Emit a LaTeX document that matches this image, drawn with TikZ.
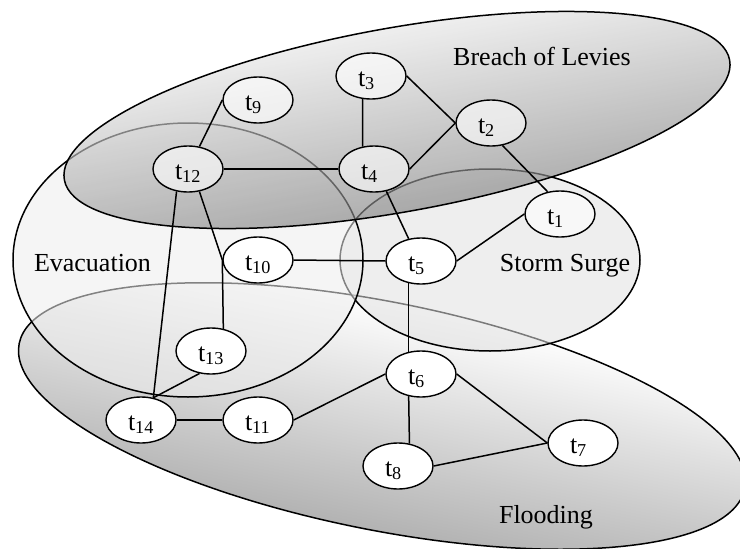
\documentclass[tikz,border=0pt]{standalone}
\usepackage{fontspec}
\setmainfont{Liberation Serif}
\usetikzlibrary{shapes.geometric}
\begin{document}
\begin{tikzpicture}[x=1pt,y=-1pt,font=\fontsize{26}{30}\selectfont]
\tikzset{
  region/.style={draw=black, line width=1.5pt},
  tnode/.style={ellipse, draw=black, line width=1.4pt, fill=white,
    minimum width=70pt, minimum height=46pt, inner sep=0pt,
    text width=26pt, align=left, text height=20pt, text depth=0pt},
  tinted/.style={fill opacity=0.6, text opacity=1},
  link/.style={line width=1.5pt},
  rlabel/.style={anchor=base, inner sep=0pt}
}
\useasboundingbox (0,0) rectangle (740,549);

% Flooding (bottom layer)
\begin{scope}[transform canvas={rotate around={-11.3:(382,416)}}]
  \path[region, top color=black!0, bottom color=black!30]
    (382,416) ellipse [x radius=370, y radius=114];
\end{scope}
% Storm Surge
\path[region, fill=black!12, fill opacity=0.55] (490,260) ellipse [x radius=150, y radius=91];
% Evacuation
\path[region, fill=black!7, fill opacity=0.55] (188,260) ellipse [x radius=175, y radius=137];
% Breach of Levies (top layer)
\begin{scope}[transform canvas={rotate around={10.2:(397,120)}}]
  \path[region, top color=black!10, bottom color=black!48, fill opacity=0.65]
    (397,120) ellipse [x radius=338, y radius=92];
\end{scope}

% nodes
\node[tnode, tinted] (t1) at (560,214) {t\textsubscript{1}};
\node[tnode, tinted] (t2) at (491,123) {t\textsubscript{2}};
\node[tnode, tinted] (t3) at (371,76) {t\textsubscript{3}};
\node[tnode, tinted] (t4) at (374,169) {t\textsubscript{4}};
\node[tnode] (t5) at (421,261) {t\textsubscript{5}};
\node[tnode] (t6) at (421,374) {t\textsubscript{6}};
\node[tnode] (t7) at (583,443) {t\textsubscript{7}};
\node[tnode] (t8) at (398,466) {t\textsubscript{8}};
\node[tnode, tinted] (t9) at (258,100) {t\textsubscript{9}};
\node[tnode] (t10) at (258,260) {t\textsubscript{10}};
\node[tnode] (t11) at (258,420) {t\textsubscript{11}};
\node[tnode, tinted] (t12) at (188,169) {t\textsubscript{12}};
\node[tnode] (t13) at (211,351) {t\textsubscript{13}};
\node[tnode] (t14) at (141,420) {t\textsubscript{14}};

% connectors
\draw[link] (t12.63) -- (t9.west);
\draw[link] (t12.east) -- (t4.west);
\draw[link] (t12.-63) -- (t10.west);
\draw[link] (t12.-117) -- (t14.61);
\draw[link] (t10.west) -- (t13.61);
\draw[link] (t13.-117) -- (t14.61);
\draw[link] (t14.east) -- (t11.west);
\draw[link] (t11.east) -- (t6.west);
\draw[link] (t10.east) -- (t5.west);
\draw[link] (t3.-110) -- (t4.117);
\draw[link] (t3.east) -- (t2.west);
\draw[link] (t4.east) -- (t2.west);
\draw[link] (t4.-61) -- (t5.119);
\draw[link] (t2.-63) -- (t1.119);
\draw[link] (t1.west) -- (t5.east);
\draw[link] (t5.-119) -- (t6.119);
\draw[link] (t6.-119) -- (t8.63);
\draw[link] (t6.east) -- (t7.west);
\draw[link] (t8.east) -- (t7.west);

% region labels
\node[rlabel] (lb) at (542,65) {Breach of Levies};
\node[rlabel] (le) at (92.5,271) {Evacuation};
\node[rlabel] (ls) at (565,271) {Storm Surge};
\node[rlabel] (lf) at (546,523) {Flooding};
\end{tikzpicture}
\end{document}
